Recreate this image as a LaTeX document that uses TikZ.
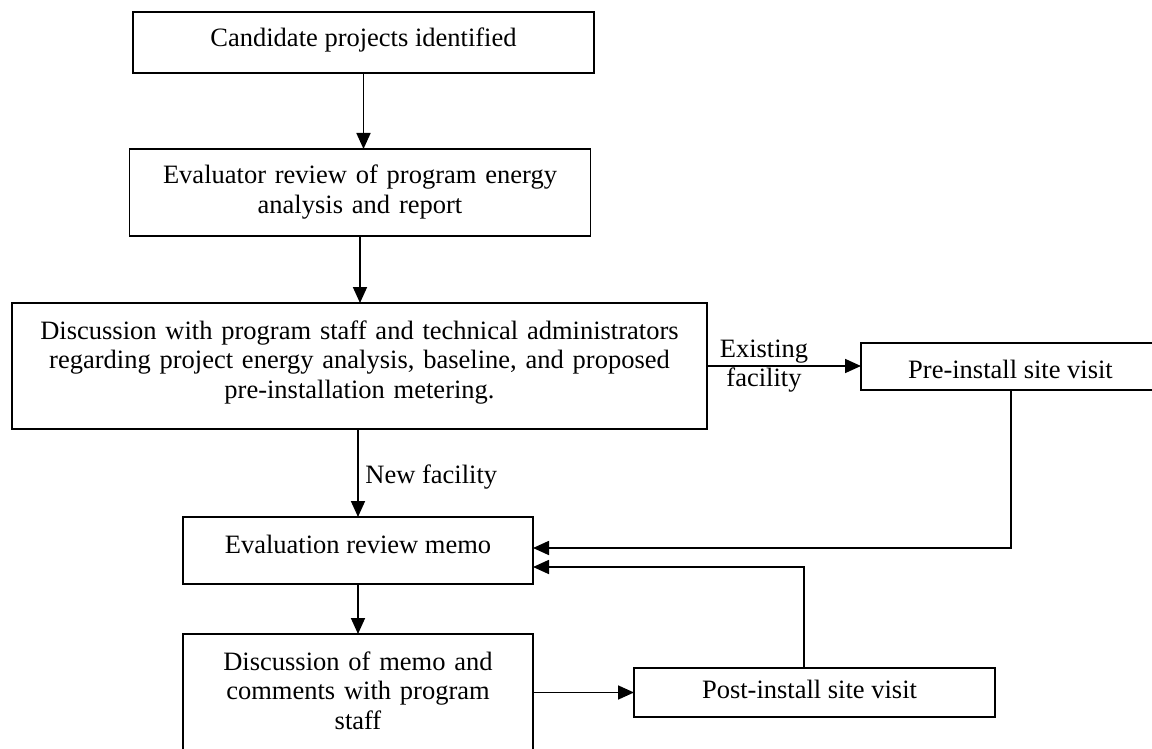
\documentclass[tikz,border=0pt]{standalone}
\usepackage{fontspec}
\setmainfont{Liberation Serif}
\usetikzlibrary{arrows.meta,calc}
\begin{document}
\begin{tikzpicture}[x=0.5pt,y=-0.5pt,
  box/.style={draw,line width=0.85pt,inner sep=0pt,outer sep=0pt},
  txt/.style={font=\fontsize{13.25}{14.75}\selectfont,inner sep=0pt},
  arr/.style={line width=0.85pt,-{Triangle[length=8pt,width=7pt]}}]
\useasboundingbox (0,0) rectangle (1152,749);
\begin{scope}
\clip (0,0) rectangle (1152,749);
% boxes
\node[box,minimum width=230.5pt,minimum height=30.5pt] (b1) at (363.5,42.5) {};
\node[box,minimum width=230.5pt,minimum height=43.5pt] (b2) at (360,192.5) {};
\node[box,minimum width=347.5pt,minimum height=63pt] (b3) at (359.5,366) {};
\node[box,minimum width=150pt,minimum height=23.5pt] (pre) at (1011,366.5) {};
\node[box,minimum width=175pt,minimum height=33.5pt] (memo) at (358,550.5) {};
\node[box,minimum width=175pt,minimum height=68pt] (disc) at (358,702) {};
\node[box,minimum width=180.5pt,minimum height=24.5pt] (post) at (814.5,692.5) {};
% texts
\node[txt,anchor=base] (t1) at (363.5,47) {Candidate projects identified};
\node[txt,anchor=base,text width=228pt,align=center] (t2) at (360,184)
  {Evaluator review of program energy\\analysis and report};
\node[txt,anchor=base,text width=345pt,align=center] (t3) at (359.5,339)
  {Discussion with program staff and technical administrators\\regarding project energy analysis, baseline, and proposed\\pre-installation metering.};
\node[txt,anchor=base west] (tnew) at (365,483) {New facility};
\node[txt,anchor=base,text width=60pt,align=center] (tex) at (764,357) {Existing\\facility};
\node[txt,anchor=base] (tpre) at (1010.5,378) {Pre-install site visit};
\node[txt,anchor=base] (tmemo) at (358,553) {Evaluation review memo};
\node[txt,anchor=base,text width=172pt,align=center] (tdisc) at (358,670)
  {Discussion of memo and\\comments with program\\staff};
\node[txt,anchor=base] (tpost) at (809.5,698) {Post-install site visit};
% connectors
\draw[arr] (b1.south) -- (b1.south |- b2.north);
\draw[arr] (b2.south) -- (b2.south |- b3.north);
\draw[arr] (b3.south -| memo.north) -- (memo.north);
\draw[arr] (b3.east) -- (b3.east -| pre.west);
\draw[arr] (memo.south) -- (disc.north);
\draw[arr] (post.west -| disc.east) -- (post.west);
\coordinate (m1) at ($(memo.east)+(0,-2.5)$);
\coordinate (m2) at ($(memo.east)+(0,16.5)$);
\coordinate (pt) at ($(post.north)+(-10.5,0)$);
\draw[arr,line cap=rect] (pre.south) |- (m1);
\draw[arr] (pt) |- (m2);
\end{scope}
\end{tikzpicture}
\end{document}
